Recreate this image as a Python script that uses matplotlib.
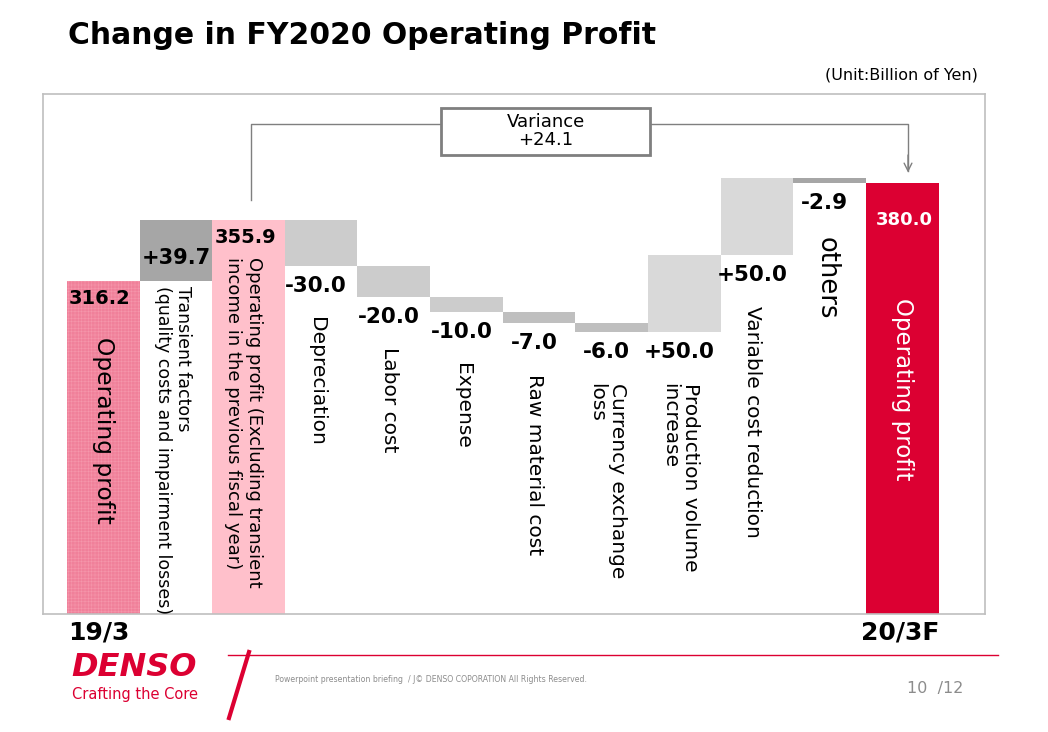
import numpy as np
import matplotlib
matplotlib.use('Agg')
import matplotlib.pyplot as plt
from matplotlib.patches import Rectangle

# data (billion yen)
categories = ['Operating profit',
              'Transient factors\n(quality costs and impairment losses)',
              'Operating profit (Excluding transient\nincome in the previous fiscal year)',
              'Depreciation', 'Labor cost', 'Expense', 'Raw material cost',
              'Currency exchange\nloss', 'Production volume\nincrease',
              'Variable cost reduction', 'others', 'Operating profit']
values = [316.2, 39.7, 355.9, -30.0, -20.0, -10.0, -7.0, -6.0, 50.0, 50.0, -2.9, 380.0]
value_labels = ['316.2', '+39.7', '355.9', '-30.0', '-20.0', '-10.0', '-7.0',
                '-6.0', '+50.0', '+50.0', '-2.9', '380.0']
is_total = [True, False, True, False, False, False, False, False, False, False, False, True]
period_labels = ['19/3', '20/3F']
variance = 24.1

colors = ['#F0809A', '#A6A6A6', '#FFC0CB', '#CCCCCC', '#CCCCCC', '#CCCCCC',
          '#BFBFBF', '#BFBFBF', '#D9D9D9', '#D9D9D9', '#A6A6A6', '#DC0032']

plt.rcParams['hatch.linewidth'] = 0.4

W, H = 1048, 732
fig = plt.figure(figsize=(W / 100, H / 100), dpi=100)
fig.patch.set_facecolor('white')


def fx(px):
    return px / W


def fy(py):
    return 1 - py / H


ax = fig.add_axes([fx(43), fy(614), fx(985) - fx(43), fy(94) - fy(614)])
ax.set_xlim(-0.83, 12.14)
ax.set_ylim(99.4, 437.9)
ax.set_xticks([])
ax.set_yticks([])
for s in ax.spines.values():
    s.set_color('#BFBFBF')
    s.set_linewidth(1.2)

# waterfall geometry
x = np.arange(len(values))
bottoms, tops = [], []
running = 0.0
for v, t in zip(values, is_total):
    if t:
        running = v
        bottoms.append(0.0)
        tops.append(v)
    else:
        lo, hi = sorted([running, running + v])
        bottoms.append(lo)
        tops.append(hi)
        running += v
heights = np.array(tops) - np.array(bottoms)

bars = ax.bar(x, heights, bottom=bottoms, width=1.0, color=colors, linewidth=0)
bars[0].set_hatch('+++++')
bars[0].set_edgecolor('#F596AB')

lab_font = 'DejaVu Sans'

# value labels
for i, (lbl, b, t) in enumerate(zip(value_labels, bottoms, tops)):
    if i == 0:
        ax.text(i - 0.47, t - 5, lbl, ha='left', va='top', fontsize=14,
                fontweight='bold', family=lab_font)
    elif i == 1:
        ax.text(i, (b + t) / 2 - 5, lbl, ha='center', va='center', fontsize=15,
                fontweight='bold', family=lab_font)
    elif i == 2:
        ax.text(i - 0.47, t - 5, lbl, ha='left', va='top', fontsize=14,
                fontweight='bold', family=lab_font)
    elif i == 11:
        ax.text(i + 0.03, t - 24, lbl, ha='center', va='center', fontsize=13,
                fontweight='bold', color='white', family=lab_font)
    else:
        ax.text(i - 0.07, b - 13, lbl, ha='center', va='center', fontsize=15.5,
                fontweight='bold', family=lab_font)

# category labels (rotated)
for i, (cat, b, t) in enumerate(zip(categories, bottoms, tops)):
    kw = dict(rotation=-90, ha='center', va='top', family=lab_font,
              multialignment='left', linespacing=1.15)
    if i == 0:
        ax.text(i, 280, cat, fontsize=16.8, **kw)
    elif i == 11:
        ax.text(i, t - 75, cat, fontsize=16.5, color='white', **kw)
    elif i == 1:
        ax.text(i - 0.04, b - 3, cat, fontsize=12.5, **kw)
    elif i == 2:
        ax.text(i - 0.07, t - 24, cat, fontsize=13, **kw)
    elif i == 10:
        ax.text(i - 0.04, b - 35, cat, fontsize=18.5, **kw)
    else:
        ax.text(i - 0.06, b - 33, cat, fontsize=14.5, **kw)

# variance connector
y_conn = 418.4
ax.plot([2.03, 2.03, 4.65], [tops[2] + 13, y_conn, y_conn], color='#7F7F7F', lw=1)
ax.plot([7.53, 11.08, 11.08], [y_conn, y_conn, tops[11] + 8], color='#7F7F7F', lw=1)
ax.annotate('', xy=(11.08, tops[11] + 5), xytext=(11.08, tops[11] + 20),
            arrowprops=dict(arrowstyle='->', color='#7F7F7F', lw=1,
                            mutation_scale=14))
ax.add_patch(Rectangle((4.65, 398.2), 7.53 - 4.65, 30.6, facecolor='white',
                       edgecolor='#7F7F7F', lw=2, zorder=3))
ax.text((4.65 + 7.53) / 2, 413.5, 'Variance\n+%.1f' % variance, ha='center',
        va='center', fontsize=13, family=lab_font, zorder=4, linespacing=1.0)

# period labels under axis
fig.text(fx(68), fy(633), period_labels[0], ha='left', va='center',
         fontsize=18, fontweight='bold', family=lab_font)
fig.text(fx(900), fy(633), period_labels[1], ha='center', va='center',
         fontsize=18, fontweight='bold', family=lab_font)

# title and unit
fig.text(fx(68), fy(36), 'Change in FY2020 Operating Profit', ha='left',
         va='center', fontsize=21.5, fontweight='bold', family=lab_font)
fig.text(fx(978), fy(75), '(Unit:Billion of Yen)', ha='right', va='center',
         fontsize=11.5, family=lab_font)

# footer
red = '#DC0032'
fig.text(fx(71), fy(667), 'DENSO', ha='left', va='center', fontsize=23,
         fontweight='heavy', style='italic', color=red, family=lab_font)
fig.text(fx(72), fy(694), 'Crafting the Core', ha='left', va='center',
         fontsize=10.5, color=red, family=lab_font)
fig.add_artist(plt.Line2D([fx(229), fx(249)], [fy(718), fy(652)], color=red, lw=3))
fig.add_artist(plt.Line2D([fx(228), fx(998)], [fy(655), fy(655)], color=red, lw=1))
fig.text(fx(275), fy(679), 'Powerpoint presentation briefing  / J\u00a9 DENSO COPORATION All Rights Reserved.',
         ha='left', va='center', fontsize=5.6, color='#8C8C8C', family=lab_font)
fig.text(fx(963), fy(688), '10  /12', ha='right', va='center', fontsize=11.5,
         color='#8C8C8C', family=lab_font)

plt.savefig('out.png', dpi=100)
